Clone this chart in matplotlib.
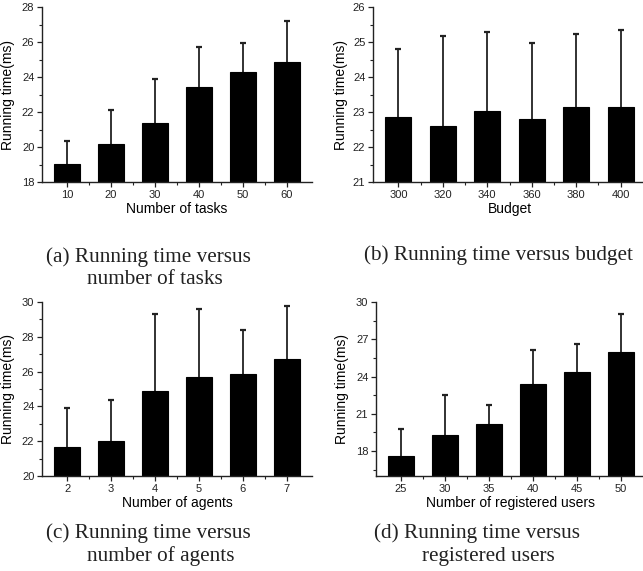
import matplotlib
matplotlib.use('Agg')
import matplotlib.pyplot as plt
from matplotlib.ticker import AutoMinorLocator, FixedLocator, MultipleLocator
import numpy as np

plt.rcParams['font.family'] = ['Liberation Sans', 'DejaVu Sans']

# (a) number of tasks
tasks = ['10', '20', '30', '40', '50', '60']
time_tasks = [19.02, 20.2, 21.4, 23.43, 24.3, 24.83]
err_tasks = [1.35, 1.94, 2.46, 2.29, 1.67, 2.39]

# (b) budget
budget = ['300', '320', '340', '360', '380', '400']
time_budget = [22.85, 22.61, 23.02, 22.8, 23.13, 23.13]
err_budget = [1.94, 2.57, 2.26, 2.16, 2.09, 2.22]

# (c) number of agents
agents = ['2', '3', '4', '5', '6', '7']
time_agents = [21.64, 21.99, 24.89, 25.7, 25.85, 26.75]
err_agents = [2.26, 2.35, 4.42, 3.92, 2.52, 3.04]

# (d) registered users
users = ['25', '30', '35', '40', '45', '50']
time_users = [17.63, 19.31, 20.16, 23.39, 24.4, 25.95]
err_users = [2.18, 3.22, 1.52, 2.74, 2.24, 3.06]

W, H = 643, 571
fig = plt.figure(figsize=(W / 100, H / 100), dpi=100)


def px_axes(left, top, right, bottom):
    return fig.add_axes([left / W, 1 - bottom / H, (right - left) / W, (bottom - top) / H])


def bar_panel(ax, labels, vals, errs, ylim, ystep, xlabel, ylab_off):
    x = np.arange(len(labels))
    eb = ax.errorbar(x, vals, yerr=[np.zeros(len(vals)), errs], fmt='none', ecolor='#222222',
                     elinewidth=1.3, capsize=2.2, capthick=1.6, zorder=1)
    # only the upper cap is shown
    eb[1][0].set_visible(False)
    ax.bar(x, vals, width=0.58, color='black', edgecolor='black', linewidth=0.8, zorder=2)
    ax.set_xlim(-0.57, len(labels) - 0.43)
    ax.set_ylim(*ylim)
    ax.set_xticks(x)
    ax.set_xticklabels(labels)
    ax.xaxis.set_minor_locator(FixedLocator(x[:-1] + 0.5))
    ax.yaxis.set_major_locator(MultipleLocator(ystep))
    ax.yaxis.set_minor_locator(AutoMinorLocator(2))
    for s in ['top', 'right']:
        ax.spines[s].set_visible(False)
    for s in ['left', 'bottom']:
        ax.spines[s].set_linewidth(1.0)
        ax.spines[s].set_color('#222222')
    ax.tick_params(which='major', direction='out', length=3.5, width=0.9, labelsize=8,
                   pad=2, colors='#222222')
    ax.tick_params(which='minor', direction='out', length=2, width=0.8, colors='#222222')
    ax.set_xlabel(xlabel, fontsize=10, labelpad=2)
    ax.set_ylabel('Running time(ms)', fontsize=10)
    ax.yaxis.set_label_coords(ylab_off, 0.5)


ax1 = px_axes(42, 7, 312, 182)
bar_panel(ax1, tasks, time_tasks, err_tasks, (18, 28), 2, 'Number of tasks', -0.1)
ax2 = px_axes(373, 7, 646, 182)
bar_panel(ax2, budget, time_budget, err_budget, (21, 26), 1, 'Budget', -0.09)
ax3 = px_axes(42, 302, 312, 476)
bar_panel(ax3, agents, time_agents, err_agents, (20, 30), 2, 'Number of agents', -0.1)
ax4 = px_axes(376, 302, 646, 476)
bar_panel(ax4, users, time_users, err_users, (16, 30), 3, 'Number of registered users', -0.1)

# captions
cap = dict(family=['Liberation Serif', 'DejaVu Serif'], fontsize=15.3, color='#222222',
           ha='center', va='center')
fig.text(148 / W, 1 - 257 / H, '(a) Running time versus', **cap)
fig.text(155 / W, 1 - 279 / H, 'number of tasks', **cap)
fig.text(498 / W, 1 - 255 / H, '(b) Running time versus budget', **cap)
fig.text(148 / W, 1 - 533 / H, '(c) Running time versus', **cap)
fig.text(161 / W, 1 - 556 / H, 'number of agents', **cap)
fig.text(477 / W, 1 - 533 / H, '(d) Running time versus', **cap)
fig.text(488 / W, 1 - 556 / H, 'registered users', **cap)

fig.savefig('out.png', dpi=100)
